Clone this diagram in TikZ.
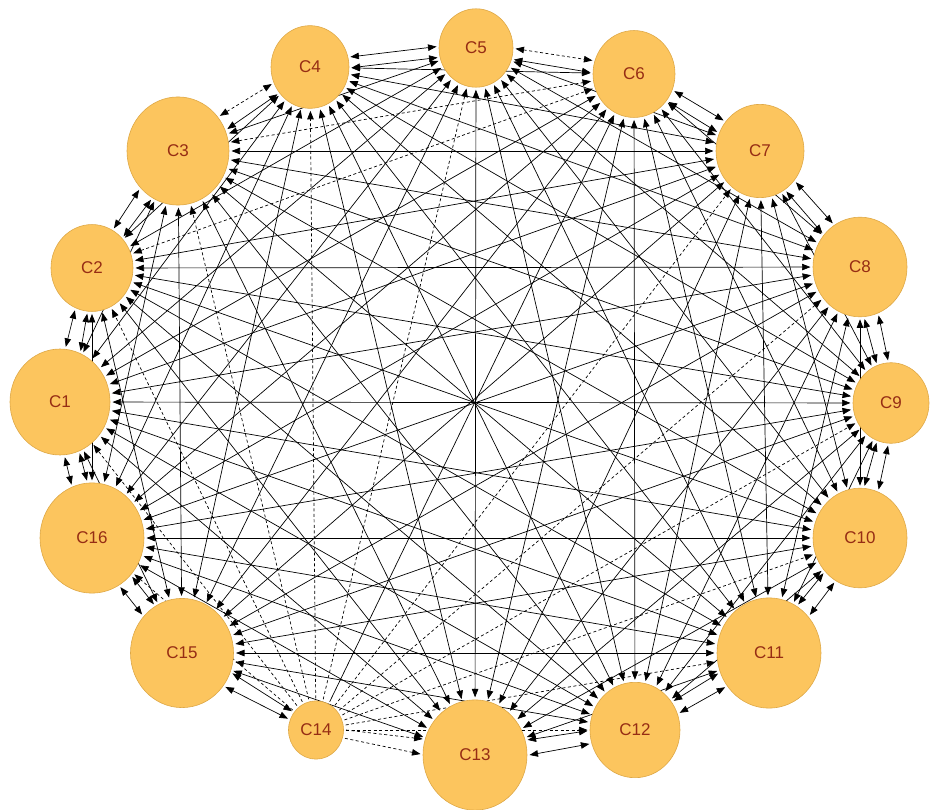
\documentclass[tikz,border=0pt]{standalone}
\usepackage{fontspec}
\setmainfont{Liberation Sans}
\usetikzlibrary{arrows.meta,shapes.geometric,backgrounds,calc}
\definecolor{nodefill}{RGB}{252,197,94}
\definecolor{nodeline}{RGB}{222,168,70}
\definecolor{nodetext}{RGB}{150,45,20}
\begin{document}
\begin{tikzpicture}[x=1pt,y=-1pt,
  >={Triangle[length=8.5pt,width=6.5pt]},
  cnode/.style={ellipse, fill=nodefill, draw=nodeline, line width=0.6pt,
    inner sep=0pt, outer sep=2.5pt, text=nodetext,
    font=\fontsize{17}{19}\selectfont},
  link/.style={line width=0.7pt, black, <->},
  onelink/.style={line width=0.7pt, black, ->},
  dsh/.style={dash pattern=on 3pt off 2.5pt},
  p2-6/.style={dsh}, p3-6/.style={dsh},
  a3/.style={dsh}, a5/.style={dsh},
  q6/.style={solid}]
\useasboundingbox (0,0) rectangle (932,810);
\foreach \n/\x/\y/\r in {1/60/402/50, 2/92/268/41, 3/178/151/51, 4/310/67/39,
  5/476/48/37, 6/634/74/41, 7/760/151/44, 8/860/267/47, 9/891/403/38,
  10/860/538/47, 11/769/653/52, 12/635/730/45, 13/475/755/52, 14/316/730/27.5,
  15/182/653/51.5, 16/92/538/52}{
  \node[cnode, minimum width={2*\r*1pt}, minimum height={2.12*\r*1pt}] (c\n) at (\x,\y) {C\n};
}
\begin{pgfonlayer}{background}
% chords between non-neighbours
\foreach \i in {1,...,16}{
  \foreach \j in {1,...,16}{
    \pgfmathtruncatemacro\d{\j-\i}
    \ifnum\d>1 \ifnum\d<15 \ifnum\i=14 \else\ifnum\j=14 \else
      \draw[link, p\i-\j/.try] (c\i) -- (c\j);
    \fi\fi\fi\fi
  }
}
% neighbours: two parallel lines
\foreach \i in {1,...,16}{
  \pgfmathtruncatemacro\j{mod(\i,16)+1}
  \ifnum\i=13 \else
    \draw[link, a\i/.try] let \p1=(c\i), \p2=(c\j), \n1={atan2(\y2-\y1,\x2-\x1)},
      \n2={\n1+8}, \n3={\n1+172} in (c\i.\n2) -- (c\j.\n3);
    \draw[link] let \p1=(c\i), \p2=(c\j), \n1={atan2(\y2-\y1,\x2-\x1)},
      \n2={\n1-8}, \n3={\n1+188} in (c\i.\n2) -- (c\j.\n3);
  \fi
}
% C14: one-way edges
\foreach \k in {1,...,12,16}{
  \draw[onelink, dsh, q\k/.try] (c14) -- (c\k);
}
\draw[onelink, dsh] let \p1=(c14), \p2=(c13), \n1={atan2(\y2-\y1,\x2-\x1)},
  \n2={\n1+8}, \n3={\n1+172} in (c14.\n2) -- (c13.\n3);
\draw[onelink, dsh] let \p1=(c14), \p2=(c13), \n1={atan2(\y2-\y1,\x2-\x1)},
  \n2={\n1-8}, \n3={\n1+188} in (c14.\n2) -- (c13.\n3);
\end{pgfonlayer}
\end{tikzpicture}
\end{document}
